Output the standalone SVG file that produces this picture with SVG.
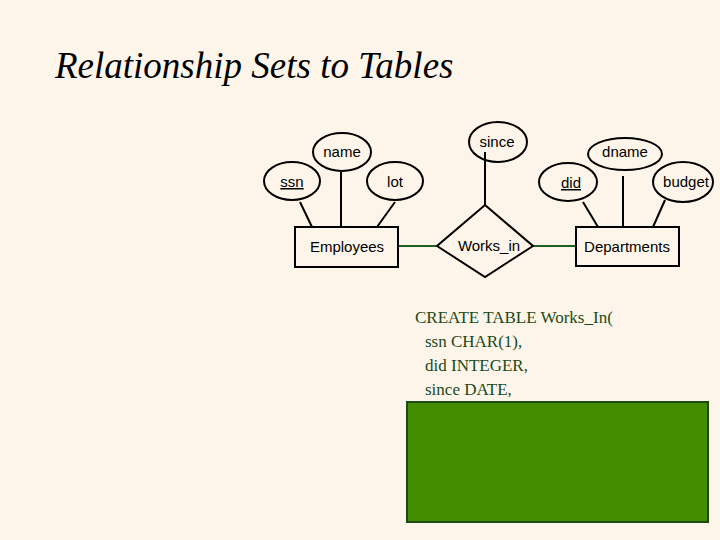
<svg xmlns="http://www.w3.org/2000/svg" width="720" height="540" viewBox="0 0 720 540">
<style>
.e{fill:none;stroke:#000;stroke-width:2}
.l{stroke:#000;stroke-width:2}
.g{stroke:#1f5f1f;stroke-width:2}
.t{font-family:"Liberation Sans",Arial,sans-serif;font-size:15px;fill:#000;text-anchor:middle}
.c{font-family:"Liberation Serif","Times New Roman",serif;font-size:17px;fill:#1a4a1a}
</style>
<rect width="720" height="540" fill="#fdf5e9"/>
<text x="55" y="78" font-family="Liberation Serif,serif" font-style="italic" font-size="37" fill="#000">Relationship Sets to Tables</text>
<g id="connectors">
<line class="l" x1="300" y1="202" x2="312" y2="227"/>
<line class="l" x1="341" y1="172" x2="341" y2="227"/>
<line class="l" x1="395" y1="202" x2="377" y2="227"/>
<line class="l" x1="485" y1="152" x2="485" y2="205"/>
<line class="l" x1="583" y1="202" x2="598" y2="227"/>
<line class="l" x1="623" y1="176" x2="623" y2="227"/>
<line class="l" x1="665" y1="200" x2="653" y2="227"/>
<line class="g" x1="398" y1="246" x2="437" y2="246"/>
<line class="g" x1="533" y1="246" x2="576" y2="246"/>
</g>
<g id="ssn"><ellipse class="e" cx="292" cy="181" rx="28" ry="19"/><text class="t" x="292" y="187" text-decoration="underline">ssn</text></g>
<g id="name"><ellipse class="e" cx="342" cy="152" rx="29" ry="19"/><text class="t" x="342" y="157">name</text></g>
<g id="lot"><ellipse class="e" cx="395" cy="181" rx="28" ry="19"/><text class="t" x="395" y="187">lot</text></g>
<g id="employees"><rect x="295" y="227" width="103" height="40" fill="none" stroke="#000" stroke-width="2"/><text class="t" x="347" y="252">Employees</text></g>
<g id="since"><ellipse class="e" cx="498" cy="142" rx="29" ry="20"/><text class="t" x="497" y="147">since</text></g>
<g id="works_in"><polygon points="485,205 533,246 485,277 437,246" fill="none" stroke="#000" stroke-width="2"/><text class="t" x="489" y="251">Works_in</text></g>
<g id="did"><ellipse class="e" cx="568" cy="182" rx="29" ry="19"/><text class="t" x="571" y="188" text-decoration="underline">did</text></g>
<g id="dname"><ellipse class="e" cx="625" cy="154" rx="37" ry="16"/><text class="t" x="625" y="157">dname</text></g>
<g id="budget"><ellipse class="e" cx="683" cy="182" rx="30" ry="20"/><text class="t" x="686" y="187">budget</text></g>
<g id="departments"><rect x="576" y="227" width="103" height="39" fill="none" stroke="#000" stroke-width="2"/><text class="t" x="627" y="252">Departments</text></g>
<g id="code">
<text class="c" x="415" y="323">CREATE TABLE Works_In(</text>
<text class="c" x="425" y="347">ssn  CHAR(1),</text>
<text class="c" x="425" y="371">did  INTEGER,</text>
<text class="c" x="425" y="395">since  DATE,</text>
<rect x="407" y="402" width="301" height="120" fill="#438c00" stroke="#1c4a10" stroke-width="2"/>
</g>
</svg>
